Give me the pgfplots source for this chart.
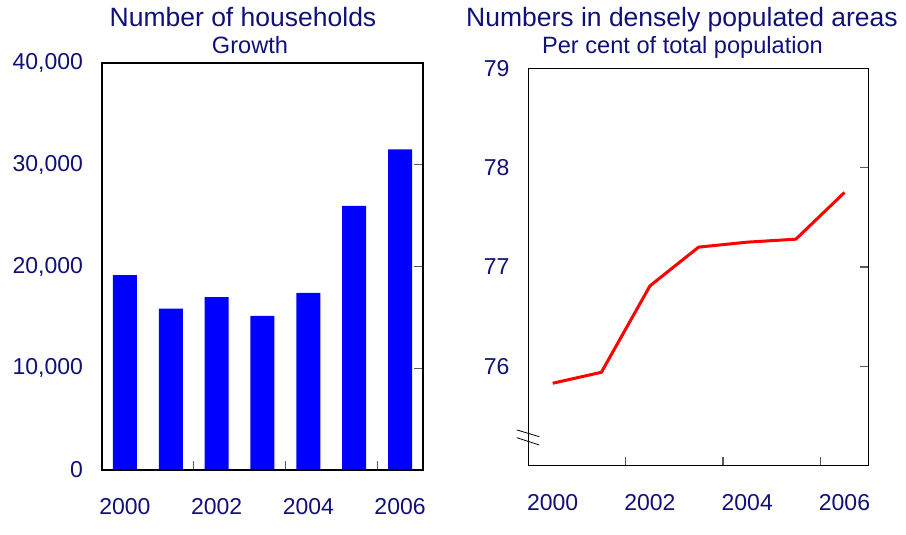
\documentclass[border=0pt]{standalone}
\usepackage{fontspec}
\setmainfont{Liberation Sans}
\usepackage{pgfplots}
\pgfplotsset{compat=1.18}
\definecolor{txtnavy}{RGB}{16,16,120}
\definecolor{barblue}{RGB}{0,0,255}

\pgfplotsset{
  panel/.style={
    scale only axis,
    anchor=south west,
    axis on top,
    clip=false,
    xmin=1999.5, xmax=2006.5,
    axis line style={black, line width=0.7pt},
    tick align=inside,
    major tick length=4.5pt,
    every tick/.style={gray!70!black, line width=0.6pt},
    ytick pos=right,
    yticklabel pos=left,
    xtick={2001.5,2003.5,2005.5},
    xticklabels={},
    xtick pos=bottom,
    extra x ticks={2000,2002,2004,2006},
    extra x tick labels={2000,2002,2004,2006},
    extra x tick style={major tick length=0pt},
    xticklabel style={anchor=center, yshift=-18.5pt},
    yticklabel style={anchor=east, xshift=-6pt},
    ticklabel style={font=\fontsize{11.5}{13}\selectfont, text=txtnavy},
    /pgf/number format/assume math mode=true,
  }
}

\begin{document}
\begin{tikzpicture}
\path[use as bounding box] (0,0) rectangle (453pt,267.5pt);

% titles
\node[anchor=base, text=txtnavy, font=\fontsize{13.25}{15}\selectfont] at (121.5pt,254pt) {Number of households};
\node[anchor=base, text=txtnavy, font=\fontsize{11.8}{13}\selectfont] at (125pt,240.5pt) {Growth};
\node[anchor=base, text=txtnavy, font=\fontsize{13.25}{15}\selectfont] at (341pt,254pt) {Numbers in densely populated areas};
\node[anchor=base, text=txtnavy, font=\fontsize{11.8}{13}\selectfont] at (341.25pt,240.5pt) {Per cent of total population};

% left panel: households growth
\begin{axis}[panel,
    at={(51pt,32.5pt)},
    width=160.5pt, height=203.5pt,
    ymin=0, ymax=40000,
    ytick={0,10000,20000,30000,40000},
    scaled y ticks=false,
    yticklabel style={/pgf/number format/1000 sep={,}},
]
\addplot[ybar, bar width=12pt, fill=barblue, draw=none] coordinates {
  (2000,19150) (2001,15850) (2002,17000) (2003,15150)
  (2004,17400) (2005,25950) (2006,31500)
};
\end{axis}

% right panel: share in densely populated areas
\begin{axis}[panel,
    at={(264.2pt,34.65pt)},
    width=170.2pt, height=198.7pt,
    ymin=75, ymax=79,
    ytick={76,77,78,79},
]
\addplot[red, line width=1.5pt] coordinates {
  (2000,75.83) (2001,75.94) (2002,76.81) (2003,77.20)
  (2004,77.25) (2005,77.28) (2006,77.75)
};
\draw[black, line width=0.4pt] (rel axis cs:-0.034,0.090) -- (rel axis cs:0.032,0.073);
\draw[black, line width=0.4pt] (rel axis cs:-0.034,0.0705) -- (rel axis cs:0.032,0.052);
\end{axis}
\end{tikzpicture}
\end{document}
